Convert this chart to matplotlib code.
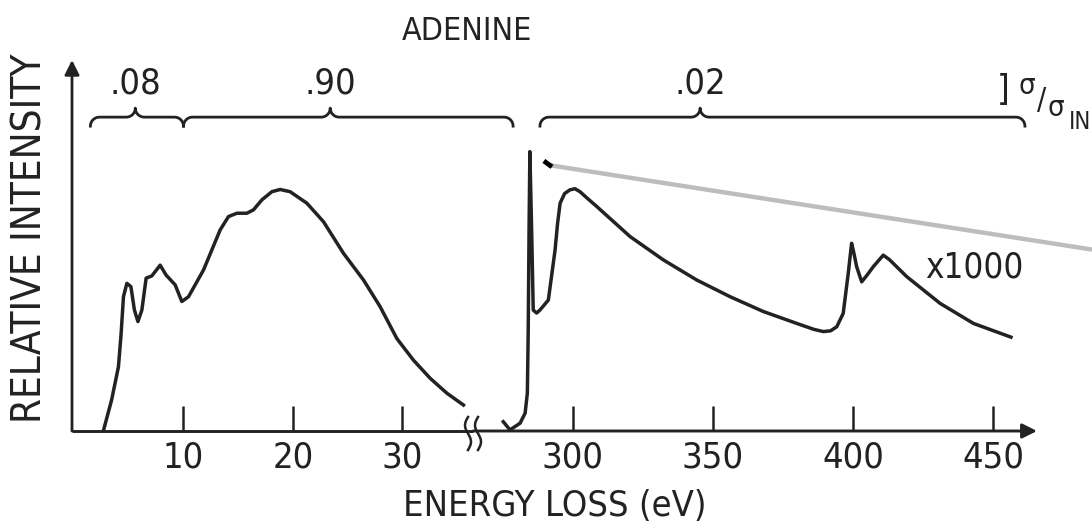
import matplotlib
matplotlib.use('Agg')
import matplotlib.pyplot as plt
from matplotlib.lines import Line2D
import numpy as np

plt.rcParams['font.family'] = ['DejaVu Sans']
plt.rcParams['font.stretch'] = 'condensed'

# ── data (intensity: 0 = baseline, 100 = arrow tip) ──
low_ev = [2.68, 3.44, 4.06, 4.30, 4.52, 4.83, 5.20, 5.52, 5.84, 6.20, 6.59, 7.11,
          7.87, 8.42, 9.24, 9.85, 10.46, 11.83, 13.35, 14.11, 14.88, 15.79, 16.39,
          17.16, 18.07, 18.83, 19.74, 21.27, 22.79, 24.61, 26.44, 27.96, 29.49,
          31.0, 32.53, 34.05, 35.57]
low_int = [0.0, 8.4, 17.3, 26.0, 36.2, 39.8, 38.9, 32.6, 29.5, 32.6, 41.2, 41.8,
           44.7, 42.0, 39.4, 34.9, 36.2, 43.4, 54.2, 57.8, 58.7, 58.7, 59.6,
           62.3, 64.5, 65.1, 64.5, 61.4, 56.4, 47.9, 40.7, 33.5, 24.9,
           19.1, 14.2, 10.2, 7.0]

core_ev = [275.1, 277.5, 281.1, 282.9, 283.7, 284.0, 284.3, 284.6, 285.25, 285.8,
           287.0, 288.2, 291.2, 293.6, 294.5, 295.4, 297.0, 298.9, 300.7, 302.5,
           305.0, 308.5, 320.4, 332.3, 344.2, 356.1, 368.0, 379.9, 386.0, 389.4,
           392.0, 394.2, 396.5, 398.3, 399.5, 400.3, 401.3, 403.1, 405.0, 407.25,
           410.8, 413.0, 419.2, 431.1, 443.0, 456.4]
core_int = [2.5, 0.3, 2.1, 4.8, 10.2, 26.3, 53.4, 75.3, 53.4, 32.6,
            31.8, 32.6, 35.3, 48.8, 56.0, 61.4, 64.0, 65.0, 65.3, 64.5,
            62.8, 60.5, 52.4, 46.1, 40.7, 36.2, 32.2, 29.0, 27.4, 26.8,
            27.0, 28.1, 31.7, 42.5, 50.6, 48.0, 44.3, 40.2, 42.0, 44.3,
            47.4, 46.2, 41.6, 34.4, 29.0, 25.3]

low_ticks = [10, 20, 30]
core_ticks = [300, 350, 400, 450]

frac_labels = ['.08', '.90', '.02']
# (start eV, end eV, cusp eV) of each cross-section bracket
frac_low = [(1.5, 10.0, 5.6), (10.0, 40.1, 23.4)]
frac_core = [(288.2, 461.4, 345.4)]
brace_level = 84.6

# grey pointer line that crosses the right panel in the scan
pointer_ev = [291.1, 485.4]
pointer_int = [71.7, 48.9]
pointer_tip_ev = [289.6, 292.5]
pointer_tip_int = [72.8, 71.2]

# ── layout (pixels of the 1092x531 scan) ──
W, H = 1092, 531
BASE, TOP = 431, 60
INK = '#222222'

fig = plt.figure(figsize=(W / 100, H / 100), dpi=100)


def box(x0, x1):
    return [x0 / W, 1 - BASE / H, (x1 - x0) / W, (BASE - TOP) / H]


def fpos(x, y):
    return x / W, 1 - y / H


ax_lo = fig.add_axes(box(72, 473))
ax_hi = fig.add_axes(box(473, 1037))

for ax, ticks in ((ax_lo, low_ticks), (ax_hi, core_ticks)):
    ax.set_facecolor('none')
    for s in ax.spines.values():
        s.set_visible(False)
    ax.yaxis.set_visible(False)
    ax.set_xticks(ticks)
    ax.tick_params(axis='x', direction='in', length=18, width=1.8, pad=7,
                   labelsize=26, color=INK, labelcolor=INK)

ax_lo.plot(low_ev, low_int, color=INK, lw=2.5, solid_joinstyle='round')
ax_hi.plot(core_ev, core_int, color=INK, lw=2.5, solid_joinstyle='round')

ax_hi.plot(pointer_ev, pointer_int, color='#bdbdbd', lw=3.2, clip_on=False,
           solid_capstyle='butt')
ax_hi.plot(pointer_tip_ev, pointer_tip_int, color='black', lw=3.5, clip_on=False,
           solid_capstyle='butt')

ax_lo.set_xlim(-0.18, 36.44)
ax_hi.set_xlim(264.29, 465.71)
for ax in (ax_lo, ax_hi):
    ax.set_ylim(0, 100)

# axes lines with arrow heads
ax_lo.plot([0, 1], [0, 0], transform=ax_lo.transAxes, color=INK, lw=2.1,
           clip_on=False, solid_capstyle='butt')
ax_lo.annotate('', xy=(0, 1), xytext=(0, 0), xycoords='axes fraction',
               arrowprops=dict(arrowstyle='-|>', color=INK, lw=2.0,
                               mutation_scale=22, shrinkA=0, shrinkB=0))
ax_hi.annotate('', xy=(1, 0), xytext=(0, 0), xycoords='axes fraction',
               arrowprops=dict(arrowstyle='-|>', color=INK, lw=2.1,
                               mutation_scale=22, shrinkA=0, shrinkB=0))


def brace(ax, x0, x1, xm, y, r_px=9):
    bb = ax.get_position()
    lo, hi = ax.get_xlim()
    sx = bb.width * W / (hi - lo)
    sy = bb.height * H / 100.0
    rx, ry = r_px / sx, r_px / sy
    t = np.linspace(0, np.pi / 2, 12)
    xs = np.concatenate([
        x0 + rx - rx * np.cos(t),
        xm - rx + rx * np.sin(t),
        xm + rx - rx * np.cos(t),
        x1 - rx + rx * np.sin(t)])
    ys = np.concatenate([
        y - ry + ry * np.sin(t),
        y + ry - ry * np.cos(t),
        y + ry - ry * np.sin(t),
        y - ry + ry * np.cos(t)])
    ax.plot(xs, ys, color=INK, lw=2.0, clip_on=False)


labels = iter(frac_labels)
for ax, spans in ((ax_lo, frac_low), (ax_hi, frac_core)):
    for x0, x1, xm in spans:
        brace(ax, x0, x1, xm, brace_level)
        ax.text(xm, brace_level + 9, next(labels), ha='center', va='center',
                fontsize=26, color=INK, clip_on=False)

# axis-break marks
for xc in (468, 478):
    yy = np.linspace(417, 450, 30)
    xx = xc - 3 * np.sin(2 * np.pi * (yy - 417) / 33)
    fig.add_artist(Line2D(xx / W, 1 - yy / H, transform=fig.transFigure,
                          color=INK, lw=1.8))

# texts
fig.text(*fpos(467, 32), 'ADENINE', ha='center', va='center', fontsize=23, color=INK)
fig.text(*fpos(31, 238), 'RELATIVE INTENSITY', ha='center', va='center',
         rotation=90, fontsize=29, color=INK)
fig.text(*fpos(555, 506), 'ENERGY LOSS (eV)', ha='center', va='center',
         fontsize=26, color=INK)
fig.text(*fpos(974, 268), 'x1000', ha='center', va='center', fontsize=25, color=INK)
fig.text(*fpos(1003, 90), ']', ha='center', va='center', fontsize=26, color=INK)
fig.text(*fpos(1027, 86), 'σ', ha='center', va='center', fontsize=21, color=INK)
fig.text(*fpos(1042, 101), '/', ha='center', va='center', fontsize=22, color=INK)
fig.text(*fpos(1056, 108), 'σ', ha='center', va='center', fontsize=21, color=INK)
fig.text(*fpos(1080, 122), 'IN', ha='center', va='center', fontsize=17, color=INK)

fig.savefig('out.png', dpi=100)
